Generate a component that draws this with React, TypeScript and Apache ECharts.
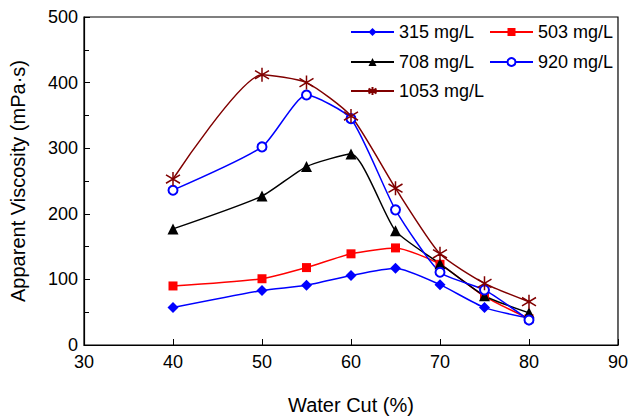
import React, { useEffect, useRef } from "react";
import * as echarts from "echarts";

const waterCut = [40, 50, 55, 60, 65, 70, 75, 80];
const seriesNames = ["315 mg/L", "503 mg/L", "708 mg/L", "920 mg/L", "1053 mg/L"];
const v315 = [57, 83, 91, 106, 117, 92, 57, 41];
const v503 = [90, 101, 118, 139, 148, 123, 74, 40];
const v708 = [177, 227, 272, 291, 174, 124, 75, 49];
const v920 = [236, 302, 381, 345, 206, 111, 84, 38];
const v1053 = [253, 412, 400, 349, 239, 139, 94, 66];
const xTicks = [30, 40, 50, 60, 70, 80, 90];
const yTicks = [0, 100, 200, 300, 400, 500];

const FONT = "'Liberation Sans', Arial, Helvetica, sans-serif";
const STAR = "path://M0,-10L0,10M-8,-6L8,6M-8,6L8,-6";

export default function App() {
  const ref = useRef<HTMLDivElement>(null);
  useEffect(() => {
    if (!ref.current) return;
    const chart = echarts.init(ref.current, undefined, { renderer: "svg" });
    const pairs = (vals: number[]) => waterCut.map((x, i) => [x, vals[i]]);
    const mk = (name: string, vals: number[], color: string, symbol: string, size: number) => ({
      name,
      type: "line",
      data: pairs(vals),
      smooth: 0.2,
      symbol,
      symbolSize: size,
      showAllSymbol: true,
      lineStyle: { color, width: 1.5 },
      itemStyle: { color },
    });
    const legendBase = (name: string, left: number, top: number) => ({
      data: [name],
      left,
      top,
      padding: 0,
      itemWidth: 43,
      itemHeight: 10,
      itemGap: 0,
      textStyle: { fontFamily: FONT, fontSize: 18, color: "#000" },
      selectedMode: false,
    });
    chart.setOption({
      animation: false,
      backgroundColor: "#fff",
      grid: {
        left: 84,
        top: 17,
        right: 11,
        bottom: 72,
        show: true,
        borderColor: "#000",
        borderWidth: 1.2,
        backgroundColor: "transparent",
      },
      legend: [
        legendBase(seriesNames[0], 350, 23),
        legendBase(seriesNames[1], 489, 23),
        legendBase(seriesNames[2], 350, 53),
        legendBase(seriesNames[3], 489, 53),
        legendBase(seriesNames[4], 350, 82),
      ],
      xAxis: {
        type: "value",
        min: xTicks[0],
        max: xTicks[xTicks.length - 1],
        interval: 10,
        name: "Water Cut (%)",
        nameLocation: "middle",
        nameGap: 50,
        nameTextStyle: { fontFamily: FONT, fontSize: 20, color: "#000" },
        axisLine: { show: true, lineStyle: { color: "#000", width: 1.2 } },
        axisTick: { show: true, inside: true, length: 6, lineStyle: { color: "#000" } },
        axisLabel: { fontFamily: FONT, fontSize: 18, color: "#000", margin: 8 },
        splitLine: { show: false },
      },
      yAxis: {
        type: "value",
        min: yTicks[0],
        max: yTicks[yTicks.length - 1],
        interval: 100,
        name: "Apparent Viscosity (mPa·s)",
        nameLocation: "middle",
        nameGap: 56,
        nameTextStyle: { fontFamily: FONT, fontSize: 20, color: "#000" },
        axisLine: { show: true, lineStyle: { color: "#000", width: 1.2 } },
        axisTick: { show: true, inside: true, length: 6, lineStyle: { color: "#000" } },
        minorTick: { show: true, splitNumber: 2, length: 5, lineStyle: { color: "#000" } },
        axisLabel: { fontFamily: FONT, fontSize: 18, color: "#000", margin: 6 },
        splitLine: { show: false },
      },
      series: [
        mk(seriesNames[0], v315, "#0000ff", "diamond", 11),
        mk(seriesNames[1], v503, "#ff0000", "rect", 9),
        mk(seriesNames[2], v708, "#000000", "triangle", 11),
        {
          ...mk(seriesNames[3], v920, "#0000ff", "emptyCircle", 9),
          itemStyle: { color: "#0000ff", borderColor: "#0000ff", borderWidth: 1.3 },
        },
        {
          ...mk(seriesNames[4], v1053, "#800000", STAR, 14),
          itemStyle: { color: "#800000", borderColor: "#800000", borderWidth: 1.5 },
        },
      ],
    });
    return () => chart.dispose();
  }, []);
  return <div ref={ref} style={{ width: 631, height: 420, position: "fixed", left: 0, top: 0 }} />;
}
